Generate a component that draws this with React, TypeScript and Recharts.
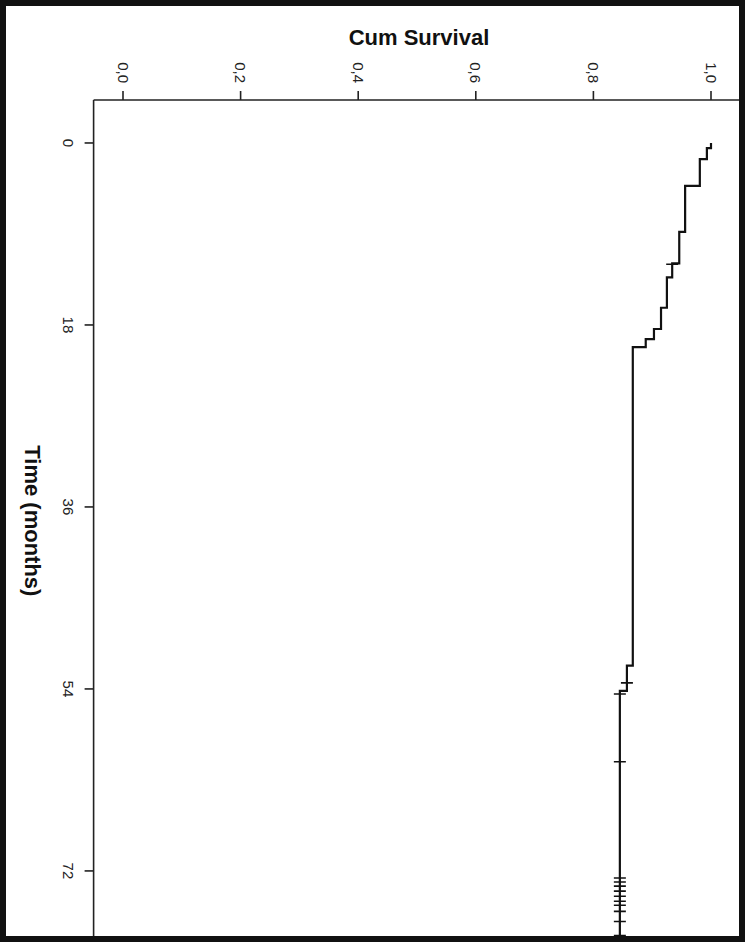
import React from 'react';
import { ComposedChart, Line, Scatter, XAxis, YAxis } from 'recharts';

// Kaplan-Meier curve: event times (months) and survival after each step
const eventTimes = [0, 0.5, 1.6, 4.25, 8.8, 11.9, 13.3, 16.3, 18.4, 19.4, 20.2, 51.7, 54.2, 78.6];
const survival = [1.0, 0.993, 0.981, 0.956, 0.946, 0.934, 0.925, 0.915, 0.903, 0.889, 0.867, 0.857, 0.845, 0.845];
// censored observations (months)
const censorTimes = [12.0, 53.4, 54.5, 61.2, 72.7, 73.1, 73.5, 74.0, 74.5, 75.0, 75.4, 76.0, 77.0, 78.4];
const timeTicks = [0, 18, 36, 54, 72];
const survivalTicks = [0, 0.2, 0.4, 0.6, 0.8, 1.0];

const curveData = eventTimes.map((t, i) => ({ t, s: survival[i] }));
const survivalAt = (time: number) => {
  let s = survival[0];
  eventTimes.forEach((t, i) => {
    if (t <= time) s = survival[i];
  });
  return s;
};
const censorData = censorTimes.map((t) => ({ t, s: survivalAt(t) }));

const FONT = '"Liberation Sans", Arial, sans-serif';
const fmt = (v: number) => v.toFixed(1).replace('.', ',');

const TopTick = (props: any) => {
  const { x, y, payload } = props;
  return (
    <text
      x={x}
      y={y}
      transform={`rotate(90, ${x}, ${y})`}
      textAnchor="end"
      dominantBaseline="central"
      fontSize={15}
      fontFamily={FONT}
      fill="#222"
    >
      {fmt(payload.value)}
    </text>
  );
};

const LeftTick = (props: any) => {
  const { x, y, payload } = props;
  const cx = x - 12;
  return (
    <text
      x={cx}
      y={y}
      transform={`rotate(90, ${cx}, ${y})`}
      textAnchor="middle"
      dominantBaseline="central"
      fontSize={15}
      fontFamily={FONT}
      fill="#222"
    >
      {String(payload.value)}
    </text>
  );
};

const CensorMark = (props: any) => {
  const { cx, cy } = props;
  if (cx == null || cy == null) return null;
  return <line x1={cx - 6} x2={cx + 6} y1={cy} y2={cy} stroke="#111" strokeWidth={1.6} />;
};

const TopTitle = (props: any) => {
  const vb = props.viewBox || {};
  const cx = vb.x + vb.width / 2 + 2;
  return (
    <text x={cx} y={vb.y + 45} textAnchor="middle" fontSize={22} fontWeight="bold" fontFamily={FONT} fill="#111">
      Cum Survival
    </text>
  );
};

const LeftTitle = (props: any) => {
  const vb = props.viewBox || {};
  const cy = vb.y + vb.height / 2;
  const cx = 32;
  return (
    <text
      x={cx}
      y={cy}
      transform={`rotate(90, ${cx}, ${cy})`}
      textAnchor="middle"
      dominantBaseline="central"
      fontSize={22}
      fontWeight="bold"
      fontFamily={FONT}
      fill="#111"
    >
      Time (months)
    </text>
  );
};

export default function App() {
  return (
    <div style={{ position: 'absolute', left: 0, top: 0, width: 750, height: 945, background: '#fff', overflow: 'hidden' }}>
      <ComposedChart
        width={750}
        height={945}
        layout="vertical"
        data={curveData}
        margin={{ top: 0, right: 9.6, bottom: 3.3, left: 0 }}
      >
        <XAxis
          type="number"
          dataKey="s"
          orientation="top"
          domain={[-0.05, 1.05]}
          allowDataOverflow
          ticks={survivalTicks}
          height={100}
          tickSize={9}
          tickMargin={8}
          tick={<TopTick />}
          axisLine={{ stroke: '#222', strokeWidth: 1.6 }}
          tickLine={{ stroke: '#222', strokeWidth: 1.6 }}
          label={<TopTitle />}
        />
        <YAxis
          type="number"
          dataKey="t"
          orientation="left"
          domain={[-4.25, 79]}
          allowDataOverflow
          ticks={timeTicks}
          width={93.6}
          tickSize={9}
          tickMargin={4}
          tick={<LeftTick />}
          axisLine={{ stroke: '#222', strokeWidth: 1.6 }}
          tickLine={{ stroke: '#222', strokeWidth: 1.6 }}
          label={<LeftTitle />}
        />
        <Line
          dataKey="s"
          type="stepBefore"
          stroke="#111"
          strokeWidth={2.2}
          dot={false}
          activeDot={false}
          isAnimationActive={false}
        />
        <Scatter data={censorData} dataKey="s" shape={<CensorMark />} isAnimationActive={false} />
      </ComposedChart>
      <div
        style={{
          position: 'absolute',
          left: 0,
          top: 0,
          width: 745,
          height: 942,
          border: '6px solid #111',
          boxSizing: 'border-box',
          pointerEvents: 'none',
        }}
      />
    </div>
  );
}
